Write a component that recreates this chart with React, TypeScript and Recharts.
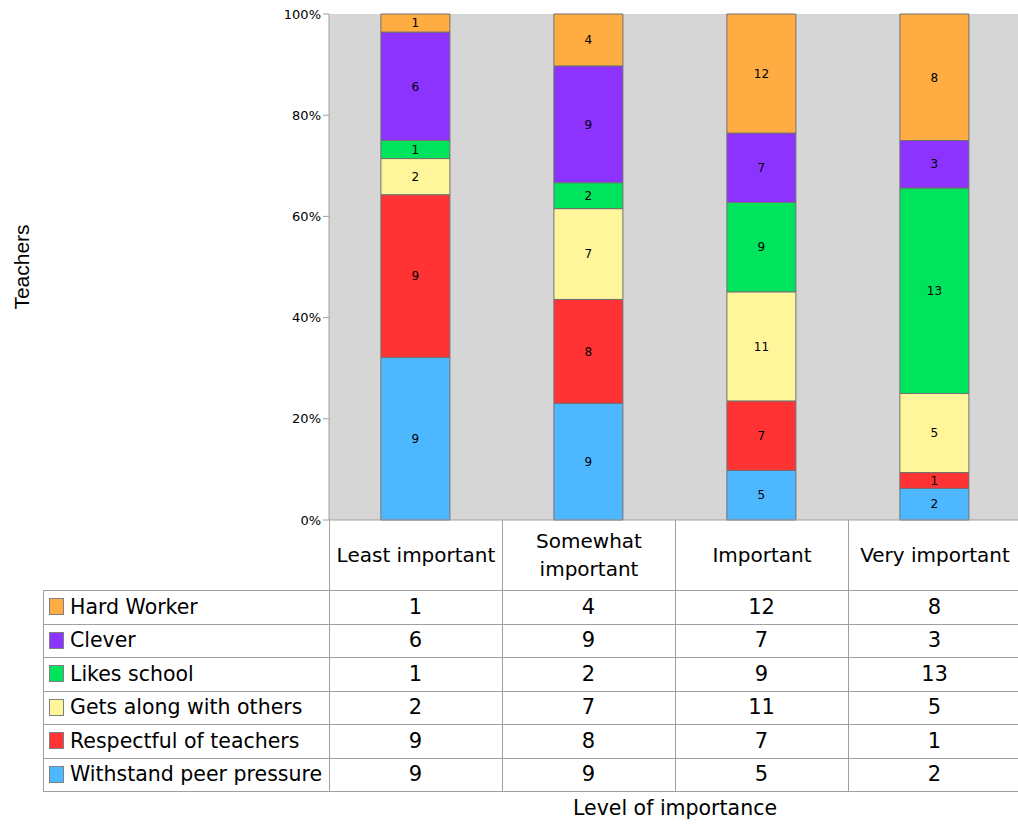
import { BarChart, Bar, XAxis, YAxis, CartesianGrid, LabelList } from 'recharts'

const CATEGORIES = ['Least important', 'Somewhat important', 'Important', 'Very important']

const WITHSTAND = [9, 9, 5, 2]
const RESPECTFUL = [9, 8, 7, 1]
const GETS_ALONG = [2, 7, 11, 5]
const LIKES_SCHOOL = [1, 2, 9, 13]
const CLEVER = [6, 9, 7, 3]
const HARD_WORKER = [1, 4, 12, 8]

const Y_TICKS = [0, 0.2, 0.4, 0.6, 0.8, 1]

// bottom of stack first
const SERIES = [
  { key: 'withstand', name: 'Withstand peer pressure', values: WITHSTAND, color: '#4db8ff' },
  { key: 'respectful', name: 'Respectful of teachers', values: RESPECTFUL, color: '#ff3333' },
  { key: 'getsAlong', name: 'Gets along with others', values: GETS_ALONG, color: '#fff59a' },
  { key: 'likesSchool', name: 'Likes school', values: LIKES_SCHOOL, color: '#00e35c' },
  { key: 'clever', name: 'Clever', values: CLEVER, color: '#8c33ff' },
  { key: 'hardWorker', name: 'Hard Worker', values: HARD_WORKER, color: '#ffad42' },
]

const data = CATEGORIES.map((cat, i) => {
  const row: Record<string, string | number> = { cat }
  SERIES.forEach((s) => (row[s.key] = s.values[i]))
  return row
})

const FONT = '"DejaVu Sans", "Lucida Grande", sans-serif'
const LINE = '#a0a0a0'
const PLOT_LEFT = 329
const COL_W = 173
const HEADER_TOP = 520
const HEADER_H = 70
const ROW_H = 33.5
const TABLE_LEFT = 43
const TABLE_RIGHT = 1018

export default function App() {
  const rows = [...SERIES].reverse()
  const tableBottom = HEADER_TOP + HEADER_H + rows.length * ROW_H

  return (
    <div style={{ position: 'absolute', left: 0, top: 0, width: 1018, height: 825, background: '#fff', fontFamily: FONT, overflow: 'hidden' }}>
      <BarChart
        width={1022}
        height={532}
        data={data}
        stackOffset="expand"
        barCategoryGap="30%"
        margin={{ top: 14, right: 1, bottom: 11, left: 269 }}
      >
        <CartesianGrid fill="#d6d6d6" horizontal={false} vertical={false} />
        <XAxis dataKey="cat" tick={false} height={1} axisLine={{ stroke: LINE }} tickLine={false} />
        <YAxis
          ticks={Y_TICKS}
          domain={[0, 1]}
          interval={0}
          width={60}
          tickFormatter={(v: number) => `${Math.round(v * 100)}%`}
          tick={{ fill: '#000', fontSize: 13, fontFamily: FONT }}
          axisLine={{ stroke: LINE }}
          tickLine={{ stroke: LINE }}
          tickSize={6}
        />
        {SERIES.map((s) => (
          <Bar key={s.key} dataKey={s.key} stackId="a" fill={s.color} stroke="#707070" strokeWidth={1} isAnimationActive={false}>
            <LabelList dataKey={s.key} position="center" style={{ fill: '#000', fontSize: 12, fontFamily: FONT }} />
          </Bar>
        ))}
      </BarChart>

      <div
        style={{
          position: 'absolute',
          left: 22,
          top: 267,
          transform: 'translate(-50%, -50%) rotate(-90deg)',
          fontFamily: '"Liberation Sans", Arial, sans-serif',
          fontSize: 21,
          whiteSpace: 'nowrap',
        }}
      >
        Teachers
      </div>

      {/* header row */}
      {CATEGORIES.map((c, i) => (
        <div
          key={c}
          style={{
            position: 'absolute',
            left: PLOT_LEFT + i * COL_W,
            top: HEADER_TOP,
            width: COL_W,
            height: HEADER_H,
            display: 'flex',
            alignItems: 'center',
            justifyContent: 'center',
            textAlign: 'center',
            fontSize: 20,
            lineHeight: '28px',
            borderLeft: `1px solid ${LINE}`,
            boxSizing: 'border-box',
            padding: i === 1 ? '0 14px' : '0',
            whiteSpace: i === 1 ? 'normal' : 'nowrap',
          }}
        >
          {c}
        </div>
      ))}

      {/* horizontal row lines */}
      {Array.from({ length: rows.length + 1 }, (_, k) => (
        <div
          key={k}
          style={{
            position: 'absolute',
            left: TABLE_LEFT,
            top: HEADER_TOP + HEADER_H + k * ROW_H,
            width: TABLE_RIGHT - TABLE_LEFT,
            height: 1,
            background: LINE,
          }}
        />
      ))}

      {/* vertical lines */}
      {[TABLE_LEFT, PLOT_LEFT, ...CATEGORIES.slice(1).map((_, i) => PLOT_LEFT + (i + 1) * COL_W)].map((x, k) => (
        <div
          key={k}
          style={{
            position: 'absolute',
            left: x,
            top: k === 0 ? HEADER_TOP + HEADER_H : HEADER_TOP,
            width: 1,
            height: tableBottom - (k === 0 ? HEADER_TOP + HEADER_H : HEADER_TOP),
            background: LINE,
          }}
        />
      ))}

      {rows.map((s, r) => {
        const top = HEADER_TOP + HEADER_H + r * ROW_H
        return (
          <div key={s.key}>
            <div
              style={{
                position: 'absolute',
                left: TABLE_LEFT + 6,
                top,
                height: ROW_H,
                display: 'flex',
                alignItems: 'center',
                fontSize: 20.5,
                whiteSpace: 'nowrap',
              }}
            >
              <span
                style={{
                  display: 'inline-block',
                  width: 15,
                  height: 17,
                  background: s.color,
                  border: '1px solid #808080',
                  boxSizing: 'border-box',
                  marginRight: 6,
                }}
              />
              {s.name}
            </div>
            {s.values.map((v, i) => (
              <div
                key={i}
                style={{
                  position: 'absolute',
                  left: PLOT_LEFT + i * COL_W,
                  top,
                  width: COL_W,
                  height: ROW_H,
                  display: 'flex',
                  alignItems: 'center',
                  justifyContent: 'center',
                  fontSize: 21,
                }}
              >
                {v}
              </div>
            ))}
          </div>
        )
      })}

      <div
        style={{
          position: 'absolute',
          left: PLOT_LEFT,
          width: 4 * COL_W,
          top: 796,
          textAlign: 'center',
          fontSize: 20.5,
        }}
      >
        Level of importance
      </div>
    </div>
  )
}
